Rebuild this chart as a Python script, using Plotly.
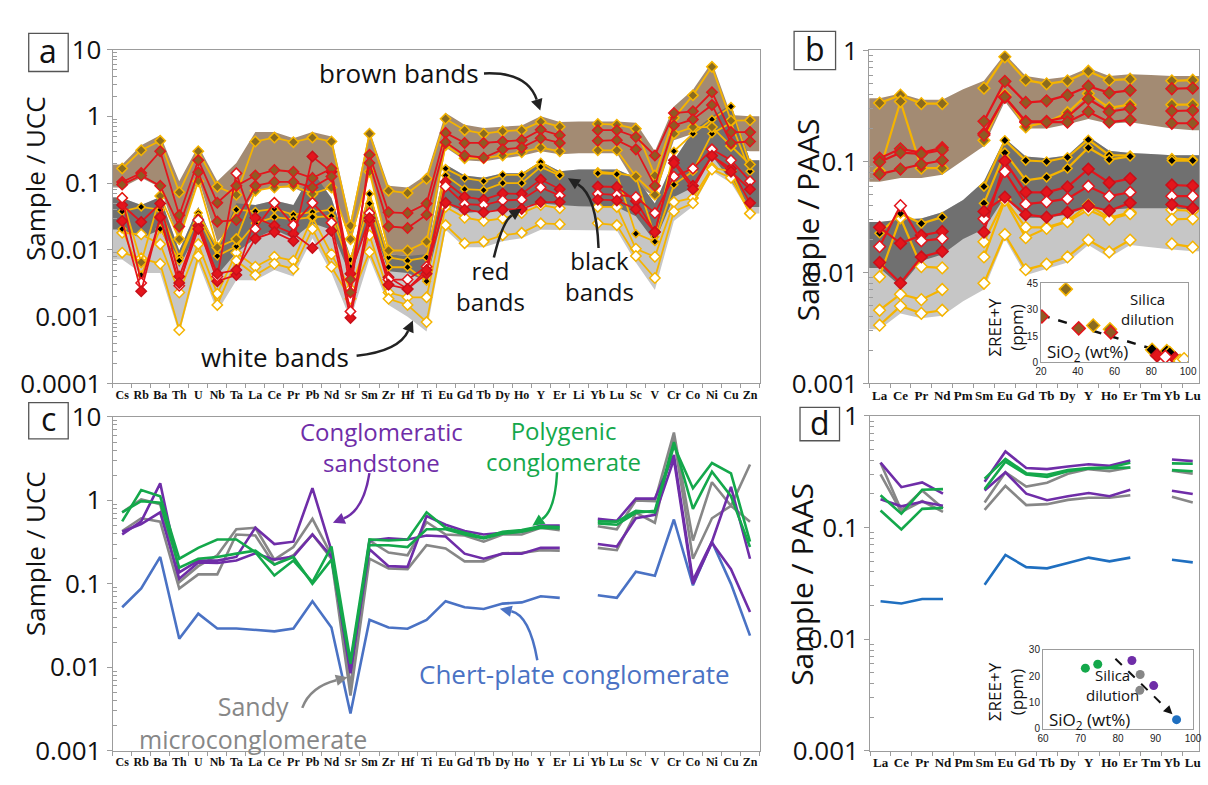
import plotly.graph_objects as go

FIG_W, FIG_H = 1208, 785

# ---------------------------------------------------------------- categories
ucc_elements = ["Cs", "Rb", "Ba", "Th", "U", "Nb", "Ta", "La", "Ce", "Pr", "Pb", "Nd", "Sr", "Sm",
                "Zr", "Hf", "Ti", "Eu", "Gd", "Tb", "Dy", "Ho", "Y", "Er", "Li", "Yb", "Lu", "Sc",
                "V", "Cr", "Co", "Ni", "Cu", "Zn"]
ree_elements = ["La", "Ce", "Pr", "Nd", "Pm", "Sm", "Eu", "Gd", "Tb", "Dy", "Y", "Ho", "Er", "Tm",
                "Yb", "Lu"]

# ------------------------------------------------ (a) chert bands, Sample/UCC
# envelopes of each band colour
a_brown_hi = [0.19, 0.37, 0.52, 0.107, 0.36, 0.107, 0.20, 0.58, 0.58, 0.47, 0.58, 0.50, 0.027, 0.62,
              0.091, 0.086, 0.133, 1.12, 0.75, 0.67, 0.70, 0.73, 1.0, 0.82, 0.84, 0.84, 0.84, 0.80,
              0.30, 1.40, 2.5, 6.5, 1.05, 1.0]
a_brown_lo = [0.086, 0.12, 0.086, 0.0133, 0.12, 0.0133, 0.026, 0.077, 0.086, 0.086, 0.062, 0.095,
              0.0126, 0.148, 0.0086, 0.0081, 0.0077, 0.34, 0.22, 0.21, 0.235, 0.256, 0.30, 0.27,
              0.28, 0.28, 0.28, 0.095, 0.062, 0.44, 0.55, 0.62, 0.32, 0.30]
a_black_hi = [0.060, 0.047, 0.062, 0.0098, 0.044, 0.0098, 0.050, 0.047, 0.055, 0.047, 0.15, 0.060,
              0.0079, 0.075, 0.0086, 0.0081, 0.0086, 0.19, 0.13, 0.12, 0.14, 0.14, 0.21, 0.15,
              0.16, 0.16, 0.16, 0.12, 0.0495, 0.22, 0.60, 1.0, 1.5, 0.22]
a_black_lo = [0.020, 0.015, 0.020, 0.0055, 0.020, 0.0042, 0.0091, 0.015, 0.020, 0.015, 0.025, 0.020,
              0.0040, 0.030, 0.0048, 0.0045, 0.0034, 0.0495, 0.0356, 0.0377, 0.040, 0.044, 0.0495,
              0.047, 0.045, 0.044, 0.044, 0.032, 0.0133, 0.062, 0.086, 0.256, 0.107, 0.044]
a_white_lo = [0.0072, 0.0045, 0.0045, 0.00055, 0.0065, 0.0012, 0.0035, 0.0035, 0.0050, 0.0040,
              0.015, 0.0045, 0.0009, 0.0075, 0.0015, 0.0010, 0.0006, 0.020, 0.011, 0.011, 0.0135,
              0.015, 0.020, 0.0195, 0.0195, 0.0195, 0.0195, 0.0065, 0.0025, 0.027, 0.045, 0.15,
              0.10, 0.035]

# individual samples (None = not analysed)
a_brown_1 = [0.165, 0.31, 0.43, 0.073, 0.30, 0.088, 0.067, 0.42, 0.48, 0.41, 0.48, 0.42, 0.023, 0.55,
             0.077, 0.071, 0.116, 0.92, 0.62, 0.55, 0.60, 0.62, 0.83, 0.70, None, 0.77, 0.75, 0.65,
             0.13, 0.95, 2.06, 5.5, 0.86, 0.87]
a_brown_2 = [0.104, 0.142, 0.30, 0.033, 0.22, 0.051, 0.091, 0.13, 0.157, 0.148, 0.119, 0.165, 0.0023,
             0.265, 0.0365, 0.0356, 0.0495, 0.565, 0.40, 0.40, 0.42, 0.44, 0.63, 0.52, None, 0.62,
             0.62, 0.49, 0.26, 1.12, 1.19, 2.3, 0.58, 0.58]
a_brown_3 = [0.095, 0.13, 0.091, 0.0225, 0.145, 0.0265, 0.028, 0.091, 0.104, 0.104, 0.086, 0.126,
             0.0036, 0.20, 0.0225, 0.0213, 0.0337, 0.41, 0.26, 0.24, 0.32, 0.34, 0.47, 0.40, None,
             0.43, 0.44, 0.32, 0.091, 0.73, 0.90, 1.48, 0.40, 0.42]
a_brown_4 = [0.06, 0.0065, 0.064, 0.0145, 0.107, 0.0109, 0.0145, 0.077, 0.086, 0.091, 0.069, 0.086,
             0.0145, 0.148, 0.0098, 0.0098, 0.0133, 0.37, 0.235, 0.235, 0.26, 0.29, 0.34, 0.30, None,
             0.31, 0.31, 0.126, 0.067, 0.55, 0.69, 0.69, 0.36, 0.19]
a_black_1 = [0.0377, 0.044, 0.040, 0.0077, 0.0356, 0.0107, 0.040, 0.0377, 0.041, 0.0337, 0.0368,
             0.040, 0.0071, 0.069, 0.0077, 0.0069, 0.0077, 0.165, 0.119, 0.107, 0.133, 0.133, 0.206,
             0.137, None, 0.148, 0.14, 0.126, 0.0157, 0.30, 0.55, 0.90, 1.40, 0.19]
a_black_2 = [0.0206, 0.0042, 0.0206, 0.0069, 0.0319, 0.0081, 0.0113, 0.025, 0.031, 0.0286, 0.031,
             0.0319, 0.0055, 0.0495, 0.0055, 0.0055, 0.0034, 0.13, 0.081, 0.0785, 0.10, 0.10, 0.175,
             0.13, None, 0.14, 0.136, 0.0175, 0.0133, 0.095, 0.15, 0.55, 0.80, 0.15]
a_red_1 = [0.047, 0.0262, 0.0495, 0.0040, 0.023, 0.0034, 0.0042, 0.0303, 0.023, 0.0175, 0.0107,
           0.0193, 0.00096, 0.0271, 0.0039, 0.0026, 0.0044, 0.104, 0.062, 0.0565, 0.070, 0.069,
           0.113, 0.081, None, 0.089, 0.0875, 0.054, 0.0185, 0.22, 0.091, 0.256, 0.165, 0.0506]
a_red_2 = [0.060, 0.0032, 0.0303, 0.0029, 0.028, 0.0040, 0.14, 0.0206, 0.0506, 0.0235, 0.0506,
           0.0256, 0.0012, 0.0356, 0.0036, 0.0036, 0.0056, 0.089, 0.0484, 0.047, 0.055, 0.0565,
           0.086, 0.065, None, 0.069, 0.0665, 0.062, 0.0356, 0.126, 0.165, 0.32, 0.22, 0.107]
a_red_3 = [0.0271, 0.0024, 0.031, 0.0032, 0.0206, 0.0044, 0.0050, 0.0148, 0.0185, 0.0136, 0.25,
           0.148, 0.0044, 0.030, 0.0030, 0.0026, 0.0050, 0.051, 0.040, 0.0365, 0.040, 0.041, 0.052,
           0.052, None, 0.0565, 0.055, 0.0406, 0.0185, 0.20, 0.081, 0.256, 0.148, 0.081]
a_white_1 = [0.018, 0.0171, 0.0122, 0.0023, 0.0122, 0.0022, 0.0091, 0.0056, 0.0079, 0.0069, 0.031,
             0.0086, 0.0026, 0.0166, 0.0023, 0.00195, 0.00195, 0.044, 0.0303, 0.0271, 0.0296,
             0.0356, 0.047, 0.042, None, 0.044, 0.044, 0.0104, 0.0079, 0.052, 0.06, 0.17, 0.15,
             0.035]
a_white_2 = [0.0091, 0.0075, 0.0062, 0.00063, 0.0081, 0.0015, 0.0069, 0.0042, 0.0062, 0.0052,
             0.0206, 0.0056, 0.00185, 0.0093, 0.00185, 0.0015, 0.00083, 0.0235, 0.0126, 0.0133,
             0.0166, 0.018, 0.025, 0.0243, None, 0.025, 0.0235, 0.0081, 0.0038, 0.0377, 0.05, 0.16,
             0.12, 0.035]

# ----------------------------------------------- (b) chert bands, Sample/PAAS
b_brown_hi = [0.371, 0.41, 0.359, 0.359, 0.447, 0.533, 0.93, 0.589, 0.552, 0.58, 0.695, 0.589, 0.61,
              0.60, 0.589, 0.589]
b_brown_lo = [0.0656, 0.0711, 0.0711, 0.0759, 0.102, 0.138, 0.347, 0.198, 0.198, 0.216, 0.241,
              0.219, 0.226, 0.21, 0.198, 0.191]
b_black_hi = [0.0285, 0.030, 0.0307, 0.0348, 0.045, 0.0665, 0.162, 0.111, 0.107, 0.113, 0.168,
              0.125, 0.119, 0.117, 0.114, 0.114]
b_black_lo = [0.011, 0.0075, 0.0127, 0.0145, 0.020, 0.0247, 0.0478, 0.0311, 0.0311, 0.0332, 0.0392,
              0.0367, 0.0379, 0.038, 0.0379, 0.0367]
b_white_lo = [0.00308, 0.00428, 0.00387, 0.00408, 0.0055, 0.00703, 0.0202, 0.00946, 0.0108, 0.0123,
              0.0177, 0.0136, 0.0177, 0.017, 0.0161, 0.0155]

b_brown_1 = [0.336, 0.396, 0.332, 0.332, None, 0.458, 0.877, 0.54, 0.50, 0.533, 0.65, 0.54, 0.552,
             None, 0.533, 0.54]
b_brown_2 = [0.107, 0.13, 0.12, 0.133, None, 0.23, 0.527, 0.34, 0.352, 0.396, 0.477, 0.415, 0.438,
             None, 0.452, 0.458]
b_brown_3 = [0.082, 0.347, 0.087, 0.087, None, 0.155, 0.396, 0.205, 0.226, 0.275, 0.41, 0.304, 0.325,
             None, 0.325, 0.325]
b_brown_4 = [0.099, 0.12, 0.117, 0.127, None, 0.179, 0.378, 0.23, 0.23, 0.253, 0.366, 0.281, 0.30,
             None, 0.285, 0.288]
b_brown_5 = [0.0769, 0.0855, 0.0944, 0.102, None, 0.173, 0.383, 0.226, 0.226, 0.226, 0.281, 0.226,
             0.237, None, 0.221, 0.221]
b_black_1 = [0.0226, 0.034, 0.0276, 0.0315, None, 0.0594, 0.155, 0.102, 0.10, 0.109, 0.157, 0.114,
             0.113, None, 0.107, 0.104]
b_black_2 = [None, None, None, None, None, 0.042, 0.12, 0.0678, 0.072, 0.0867, 0.133, 0.104, 0.111,
             None, 0.102, 0.102]
b_red_1 = [0.0255, 0.0183, 0.0216, 0.0234, None, 0.0231, 0.101, 0.0528, 0.0528, 0.059, 0.0855,
           0.0643, 0.0701, None, 0.0614, 0.0603]
b_red_2 = [0.0171, 0.040, 0.0193, 0.0202, None, 0.0305, 0.081, 0.0413, 0.0433, 0.0462, 0.0598,
           0.0487, 0.0528, None, 0.0487, 0.0487]
b_red_3 = [0.0123, 0.00802, 0.0138, 0.0155, None, 0.0355, 0.0478, 0.0332, 0.0315, 0.0348, 0.0397,
           0.036, 0.0424, None, 0.041, 0.038]
b_white_1 = [0.00916, 0.0311, 0.0113, 0.011, None, 0.0189, 0.0456, 0.0255, 0.0255, 0.0291, 0.0405,
             0.0311, 0.0348, None, 0.0367, 0.036]
b_white_2 = [0.00457, 0.00637, 0.00569, 0.00703, None, 0.0138, 0.0447, 0.0206, 0.025, 0.0287, 0.0367,
             0.0301, 0.0339, None, 0.0301, 0.0305]
b_white_3 = [0.00335, 0.00498, 0.00428, 0.00457, None, 0.008, 0.022, 0.0106, 0.0119, 0.0138, 0.0196,
             0.0153, 0.0196, None, 0.0181, 0.0169]

# inset (b): total REE+Y against silica
b_sio2_brown_y, b_ree_brown_y = [33.5, 48.4, 57.5], [41.7, 21.0, 18.9]
b_sio2_brown_r, b_ree_brown_r = [20.5, 40.5, 58.0], [26.1, 19.4, 17.1]
b_sio2_black, b_ree_black = [80.4, 88.4, 90.0], [7.2, 6.5, 5.4]
b_sio2_red, b_ree_red = [83.1, 93.0], [4.0, 2.2]
b_sio2_red_w, b_ree_red_w = [87.6], [3.2]
b_sio2_white, b_ree_white = [95.6, 97.8], [0.9, 1.8]
b_trend_sio2, b_trend_ree = [20.0, 93.5], [27.0, 3.6]

# ------------------------------------------ (c) conglomerates, Sample/UCC
c_chert_plate = [0.0524, 0.088, 0.21, 0.022, 0.044, 0.0292, 0.0292, 0.028, 0.027, 0.0292, 0.062,
                 0.030, 0.0028, 0.037, 0.030, 0.029, 0.037, 0.062, 0.0524, 0.050, 0.058, 0.060,
                 0.071, 0.068, None, 0.073, 0.068, 0.14, 0.125, 0.59, 0.096, 0.32, 0.10, 0.024]
c_cong_sand_1 = [0.39, 0.56, 1.6, 0.137, 0.19, 0.19, 0.21, 0.47, 0.30, 0.32, 1.4, 0.25, 0.0091, 0.26,
                 0.163, 0.16, 0.65, 0.51, 0.43, 0.39, 0.41, 0.42, 0.50, 0.50, None, 0.60, 0.57, 1.05,
                 1.05, 3.5, 0.11, 0.32, 1.45, 0.20]
c_cong_sand_2 = [0.42, 0.52, 0.72, 0.115, 0.18, 0.178, 0.19, 0.232, 0.195, 0.212, 0.39, 0.212,
                 0.0085, 0.33, 0.35, 0.34, 0.38, 0.37, 0.23, 0.20, 0.23, 0.23, 0.27, 0.27, None,
                 0.30, 0.28, 0.61, 0.67, 3.1, 0.10, 0.31, 0.15, 0.046]
c_polygenic_1 = [0.56, 1.33, 1.12, 0.20, 0.27, 0.34, 0.34, 0.24, 0.126, 0.19, 0.105, 0.28, 0.012,
                 0.34, 0.33, 0.34, 0.72, 0.47, 0.41, 0.36, 0.42, 0.44, 0.49, 0.48, None, 0.56,
                 0.556, 0.75, 0.72, 4.5, 1.4, 2.8, 2.1, 0.32]
c_polygenic_2 = [0.72, 0.98, 0.94, 0.156, 0.20, 0.21, 0.23, 0.25, 0.17, 0.21, 0.10, 0.195, 0.011,
                 0.29, 0.29, 0.276, 0.45, 0.45, 0.39, 0.35, 0.40, 0.42, 0.47, 0.46, None, 0.53, 0.51,
                 0.71, 0.75, 5.0, 0.79, 2.2, 1.12, 0.276]
c_sandy_1 = [0.72, 1.03, 0.90, 0.105, 0.163, 0.22, 0.45, 0.47, 0.195, 0.276, 0.60, 0.22, 0.0059,
             0.33, 0.237, 0.22, 0.55, 0.39, 0.38, 0.32, 0.39, 0.39, 0.47, 0.44, None, 0.49, 0.45,
             1.0, 0.98, 6.5, 0.33, 1.65, 0.86, 2.69]
c_sandy_2 = [0.43, 0.61, 0.556, 0.088, 0.13, 0.13, 0.39, 0.38, 0.17, 0.22, 0.39, 0.20, 0.0046, 0.20,
             0.153, 0.15, 0.29, 0.265, 0.186, 0.186, 0.232, 0.235, 0.253, 0.25, None, 0.27, 0.253,
             0.71, 0.54, 5.6, 0.20, 0.61, 0.86, 0.556]

# ----------------------------------------- (d) conglomerates, Sample/PAAS
d_chert_plate = [0.0219, 0.0209, 0.0229, 0.0229, None, 0.0308, 0.0568, 0.0442, 0.0431, 0.0482,
                 0.0538, 0.0498, 0.0538, None, 0.0514, 0.0488]
d_cong_sand_1 = [0.381, 0.23, 0.254, 0.201, None, 0.257, 0.48, 0.341, 0.334, 0.352, 0.369, 0.357,
                 0.399, None, 0.407, 0.394]
d_cong_sand_2 = [0.179, 0.155, 0.17, 0.157, None, 0.215, 0.313, 0.201, 0.176, 0.191, 0.204, 0.191,
                 0.218, None, 0.214, 0.20]
d_polygenic_1 = [0.195, 0.133, 0.218, 0.221, None, 0.274, 0.412, 0.307, 0.297, 0.327, 0.341, 0.345,
                 0.381, None, 0.376, 0.373]
d_polygenic_2 = [0.142, 0.096, 0.147, 0.15, None, 0.221, 0.389, 0.299, 0.284, 0.319, 0.339, 0.341,
                 0.345, None, 0.327, 0.319]
d_sandy_1 = [0.381, 0.142, 0.215, 0.149, None, 0.168, 0.313, 0.233, 0.252, 0.303, 0.334, 0.319,
             0.345, None, 0.323, 0.303]
d_sandy_2 = [0.299, 0.138, 0.173, 0.138, None, 0.144, 0.236, 0.159, 0.162, 0.177, 0.185, 0.185,
             0.195, None, 0.189, 0.168]

# inset (d)
d_sio2_polygenic, d_ree_polygenic = [71.3, 74.6], [23.0, 24.5]
d_sio2_cong_sand, d_ree_cong_sand = [83.7, 89.5], [25.9, 16.4]
d_sio2_sandy, d_ree_sandy = [85.9, 85.8], [20.6, 14.6]
d_sio2_chert, d_ree_chert = [95.6], [3.5]
d_trend_sio2, d_trend_ree = [79.3, 94.5], [26.6, 5.5]

# ---------------------------------------------------------------- styling
AX = "#9c9c9c"
YEL = "#f5b400"
RED = "#e3151c"
BROWN_FILL = "#a38b73"
DARK_FILL = "#707070"
LIGHT_FILL = "#c6c6c6"
PURPLE = "#6f2da8"
GREEN = "#14a84b"
GREY = "#878787"
BLUE_C = "#4a72c4"
BLUE_D = "#1f6fc0"

# line colour, marker fill, marker edge
MARK = {
    "brown_y": (YEL, "#8a6b1f", YEL),
    "brown_r": (RED, "#8f5a24", RED),
    "black": (YEL, "#000000", YEL),
    "red": (RED, RED, "#c8101a"),
    "red_w": (RED, "#ffffff", RED),
    "white": (YEL, "#ffffff", YEL),
}

# inset frame of (d) on the page (left, top, right, bottom in pixels) and its data ranges
INSET_D_BOX = (1050, 661, 1202, 744)
INSET_D_X = (60, 100)
INSET_D_Y = (0, 30)

fig = go.Figure()


def px(x, y):
    """pixel position on the page -> paper coordinates"""
    return x / FIG_W, 1 - y / FIG_H


def band(xa, ya, hi, lo, color):
    n = len(hi)
    xs = [-0.5] + list(range(n)) + [n - 0.5]
    top = [hi[0]] + list(hi) + [hi[-1]]
    bot = [lo[0]] + list(lo) + [lo[-1]]
    fig.add_trace(go.Scatter(x=xs + xs[::-1], y=top + bot[::-1], mode="lines", fill="toself",
                             fillcolor=color, line=dict(width=0), hoverinfo="skip",
                             showlegend=False, xaxis=xa, yaxis=ya))


def profile(xa, ya, values, kind, lw, ms):
    line_c, fill_c, edge_c = MARK[kind]
    size = ms - 2 if kind == "black" else ms
    fig.add_trace(go.Scatter(x=list(range(len(values))), y=values, mode="lines+markers",
                             line=dict(color=line_c, width=lw),
                             marker=dict(symbol="diamond", size=size, color=fill_c,
                                         line=dict(color=edge_c, width=1.5)),
                             showlegend=False, xaxis=xa, yaxis=ya))


def plain(xa, ya, values, color, lw=2.6):
    fig.add_trace(go.Scatter(x=list(range(len(values))), y=values, mode="lines",
                             line=dict(color=color, width=lw), showlegend=False,
                             xaxis=xa, yaxis=ya))


# (a)
band("x", "y", a_black_hi, a_white_lo, LIGHT_FILL)
band("x", "y", a_brown_hi, a_brown_lo, BROWN_FILL)
band("x", "y", a_black_hi, a_black_lo, DARK_FILL)
for vals, kind in [(a_white_1, "white"), (a_white_2, "white"), (a_black_1, "black"),
                   (a_black_2, "black"), (a_brown_1, "brown_y"), (a_brown_4, "brown_y"),
                   (a_red_1, "red"), (a_red_2, "red_w"), (a_red_3, "red"),
                   (a_brown_2, "brown_r"), (a_brown_3, "brown_r")]:
    profile("x", "y", vals, kind, 1.8, 8)

# (b)
band("x2", "y2", b_black_hi, b_white_lo, LIGHT_FILL)
band("x2", "y2", b_brown_hi, b_brown_lo, BROWN_FILL)
band("x2", "y2", b_black_hi, b_black_lo, DARK_FILL)
for vals, kind in [(b_white_1, "white"), (b_white_2, "white"), (b_white_3, "white"),
                   (b_black_1, "black"), (b_black_2, "black"), (b_brown_1, "brown_y"),
                   (b_brown_3, "brown_y"), (b_red_1, "red"), (b_red_2, "red_w"), (b_red_3, "red"),
                   (b_brown_2, "brown_r"), (b_brown_4, "brown_r"), (b_brown_5, "brown_r")]:
    profile("x2", "y2", vals, kind, 2.2, 9)

# (c)
for vals, col in [(c_chert_plate, BLUE_C), (c_sandy_2, GREY), (c_sandy_1, GREY),
                  (c_cong_sand_2, PURPLE), (c_cong_sand_1, PURPLE),
                  (c_polygenic_2, GREEN), (c_polygenic_1, GREEN)]:
    plain("x3", "y3", vals, col)

# (d)
for vals, col in [(d_chert_plate, BLUE_D), (d_sandy_2, GREY), (d_sandy_1, GREY),
                  (d_cong_sand_2, PURPLE), (d_cong_sand_1, PURPLE),
                  (d_polygenic_2, GREEN), (d_polygenic_1, GREEN)]:
    plain("x4", "y4", vals, col)

# inset (b)
fig.add_trace(go.Scatter(x=b_trend_sio2, y=b_trend_ree, mode="lines",
                         line=dict(color="#111", width=2.5, dash="dash"), showlegend=False,
                         xaxis="x5", yaxis="y5"))
for sx, sy, kind in [(b_sio2_brown_y, b_ree_brown_y, "brown_y"),
                     (b_sio2_brown_r, b_ree_brown_r, "brown_r"),
                     (b_sio2_black, b_ree_black, "black"), (b_sio2_red, b_ree_red, "red"),
                     (b_sio2_red_w, b_ree_red_w, "red_w"), (b_sio2_white, b_ree_white, "white")]:
    _, fill_c, edge_c = MARK[kind]
    fig.add_trace(go.Scatter(x=sx, y=sy, mode="markers",
                             marker=dict(symbol="diamond", size=10, color=fill_c,
                                         line=dict(color=edge_c, width=1.5)),
                             showlegend=False, xaxis="x5", yaxis="y5"))

# inset (d)
for sx, sy, col in [(d_sio2_polygenic, d_ree_polygenic, GREEN),
                    (d_sio2_cong_sand, d_ree_cong_sand, PURPLE),
                    (d_sio2_sandy, d_ree_sandy, GREY), (d_sio2_chert, d_ree_chert, BLUE_D)]:
    fig.add_trace(go.Scatter(x=sx, y=sy, mode="markers", marker=dict(size=9, color=col),
                             showlegend=False, xaxis="x6", yaxis="y6"))


# ---------------------------------------------------------------- axes
def cat_axis(domain, labels, right, size, anchor):
    n = len(labels)
    return dict(domain=domain, anchor=anchor, range=[-0.5, right], tickmode="array",
                tickvals=list(range(n)), ticktext=[f"<b>{t}</b>" for t in labels], ticks="",
                showline=True, mirror=True, linecolor=AX, linewidth=1, showgrid=False,
                zeroline=False, tickfont=dict(family="Liberation Serif", size=size, color="#111"),
                minor=dict(tickmode="array", tickvals=[i + 0.5 for i in range(-1, n)],
                           ticks="outside", ticklen=4, tickcolor=AX, showgrid=False))


def log_axis(domain, lo, hi, labels, size, anchor):
    minors = [k * 10.0 ** e for e in range(lo, hi) for k in range(2, 10)]
    return dict(domain=domain, anchor=anchor, type="log", range=[lo, hi], tickmode="array",
                tickvals=[10.0 ** e for e in range(lo, hi + 1)], ticktext=labels,
                ticks="outside", ticklen=5, tickcolor=AX, showline=True, mirror=True,
                linecolor=AX, linewidth=1, showgrid=False, zeroline=False,
                tickfont=dict(family="Open Sans", size=size, color="#111"),
                minor=dict(tickmode="array", tickvals=minors, ticks="inside", ticklen=4,
                           tickcolor=AX, showgrid=False))


def inset_axis(domain, rng, vals, anchor):
    return dict(domain=domain, anchor=anchor, range=rng, tickmode="array", tickvals=vals,
                ticks="", showline=True, mirror=True, linecolor=AX, linewidth=1,
                showgrid=False, zeroline=False,
                tickfont=dict(family="Liberation Sans", size=10, color="#222"),
                tickprefix="<b>", ticksuffix="</b>")


def xdom(x0, x1):
    return [x0 / FIG_W, x1 / FIG_W]


def ydom(top, bottom):
    return [1 - bottom / FIG_H, 1 - top / FIG_H]


fig.update_layout(
    width=FIG_W, height=FIG_H, autosize=False,
    margin=dict(l=0, r=0, t=0, b=0),
    paper_bgcolor="white", plot_bgcolor="rgba(0,0,0,0)",
    showlegend=False,
    xaxis=cat_axis(xdom(108, 763), ucc_elements, 33.5, 12, "y"),
    yaxis=log_axis(ydom(32, 382), -4, 1, ["0.0001", "0.001", "0.01", "0.1", "1", "10"], 26, "x"),
    xaxis2=cat_axis(xdom(874, 1208), ree_elements, 15.3, 13, "y2"),
    yaxis2=log_axis(ydom(33, 382), -3, 0, ["0.001", "0.01", "0.1", "1"], 26, "x2"),
    xaxis3=cat_axis(xdom(108, 763), ucc_elements, 33.5, 12, "y3"),
    yaxis3=log_axis(ydom(417, 767), -3, 1, ["0.001", "0.01", "0.1", "1", "10"], 26, "x3"),
    xaxis4=cat_axis(xdom(875, 1208), ree_elements, 15.3, 13, "y4"),
    yaxis4=log_axis(ydom(416, 767), -3, 0, ["0.001", "0.01", "0.1", "1"], 26, "x4"),
    xaxis5=inset_axis(xdom(1048, 1197), [20, 100], [20, 40, 60, 80, 100], "y5"),
    yaxis5=inset_axis(ydom(277, 360), [0, 45], [0, 15, 30, 45], "x5"),
    xaxis6=inset_axis(xdom(INSET_D_BOX[0], INSET_D_BOX[2]), list(INSET_D_X),
                      [60, 70, 80, 90, 100], "y6"),
    yaxis6=inset_axis(ydom(INSET_D_BOX[1], INSET_D_BOX[3]), list(INSET_D_Y),
                      [0, 10, 20, 30], "x6"),
)


# ---------------------------------------------------------------- text and arrows
def label(text, x, y, size, color="#111", angle=0):
    xp, yp = px(x, y)
    fig.add_annotation(x=xp, y=yp, xref="paper", yref="paper", text=text, showarrow=False,
                       font=dict(family="Open Sans", size=size, color=color),
                       xanchor="center", yanchor="middle", textangle=angle)


def panel_tag(letter, x0, y0, x1, y1):
    a = px(x0, y0)
    b = px(x1, y1)
    fig.add_shape(type="rect", xref="paper", yref="paper", x0=a[0], y0=b[1], x1=b[0], y1=a[1],
                  line=dict(color="#555", width=1.3), fillcolor="white")
    label(letter, (x0 + x1) / 2, (y0 + y1) / 2 - 2, 32)


def head(tip, ux, uy, color, length=12, half=6):
    """filled triangular arrowhead pointing along (ux, uy) in page pixels"""
    bx, by = tip[0] - ux * length, tip[1] - uy * length
    pts = [tip, (bx - uy * half, by + ux * half), (bx + uy * half, by - ux * half)]
    pp = [px(*p) for p in pts]
    path = f"M {pp[0][0]},{pp[0][1]} L {pp[1][0]},{pp[1][1]} L {pp[2][0]},{pp[2][1]} Z"
    fig.add_shape(type="path", xref="paper", yref="paper", path=path, fillcolor=color,
                  line=dict(width=0))
    return bx, by


def curved_arrow(p0, c, p1, color):
    dx, dy = p1[0] - c[0], p1[1] - c[1]
    n = (dx * dx + dy * dy) ** 0.5
    end = head(p1, dx / n, dy / n, color)
    (x0, y0), (cx, cy), (x1, y1) = px(*p0), px(*c), px(*end)
    fig.add_shape(type="path", xref="paper", yref="paper",
                  path=f"M {x0},{y0} Q {cx},{cy} {x1},{y1}",
                  line=dict(color=color, width=2.5))


def inset_d_px(sio2, ree):
    l, t, r, b = INSET_D_BOX
    x = l + (sio2 - INSET_D_X[0]) / (INSET_D_X[1] - INSET_D_X[0]) * (r - l)
    y = b - (ree - INSET_D_Y[0]) / (INSET_D_Y[1] - INSET_D_Y[0]) * (b - t)
    return x, y


panel_tag("a", 23, 15, 63, 55)
panel_tag("b", 798, 13, 840, 53)
panel_tag("c", 23, 402, 63, 440)
panel_tag("d", 804, 407, 844, 442)

label("Sample / UCC", 30, 167, 26, angle=-90)
label("Sample / UCC", 30, 560, 26, angle=-90)
label("Sample / PAAS", 811, 210, 30, angle=-90)
label("Sample / PAAS", 806, 592, 30, angle=-90)

# band names in (a)
label("brown bands", 398, 57, 26)
label("red<br>bands", 491, 280, 24)
label("black<br>bands", 601, 269, 24)
label("white bands", 272, 354, 26)
curved_arrow((484, 57), (528, 55), (541, 96), "#222")
curved_arrow((494, 250), (503, 212), (522, 199), "#222")
curved_arrow((600, 240), (598, 185), (569, 167), "#222")
curved_arrow((355, 353), (398, 348), (412, 316), "#222")

# lithology names in (c)
label("Conglomeratic<br>sandstone", 380, 449, 24, PURPLE)
label("Polygenic<br>conglomerate", 565, 448, 24, GREEN)
label("Chert-plate conglomerate", 576, 686, 26, BLUE_C)
label("Sandy<br>microconglomerate", 250, 737, 25, GREY)
curved_arrow((368, 476), (362, 515), (331, 528), PURPLE)
curved_arrow((558, 475), (556, 515), (533, 531), GREEN)
curved_arrow((538, 672), (530, 625), (500, 618), BLUE_C)
curved_arrow((300, 722), (308, 700), (346, 690), GREY)

# insets
label("ΣREE+Y<br>(ppm)", 1012, 323, 17, angle=-90)
label("Silica<br>dilution", 1156, 304, 15)
label("SiO<sub>2</sub> (wt%)", 1095, 350, 17)
label("ΣREE+Y<br>(ppm)", 1012, 705, 17, angle=-90)
label("Silica<br>dilution", 1120, 698, 15)
label("SiO<sub>2</sub> (wt%)", 1097, 735, 17)

# dilution trend arrow in inset (d)
t0 = inset_d_px(d_trend_sio2[0], d_trend_ree[0])
t1 = inset_d_px(d_trend_sio2[1], d_trend_ree[1])
ddx, ddy = t1[0] - t0[0], t1[1] - t0[1]
dn = (ddx * ddx + ddy * ddy) ** 0.5
tb = head(t1, ddx / dn, ddy / dn, "#111", length=9, half=4.5)
q0, q1 = px(*t0), px(*tb)
fig.add_shape(type="line", xref="paper", yref="paper", x0=q0[0], y0=q0[1], x1=q1[0], y1=q1[1],
              line=dict(color="#111", width=2, dash="dash"))

fig.write_html("out.html")
